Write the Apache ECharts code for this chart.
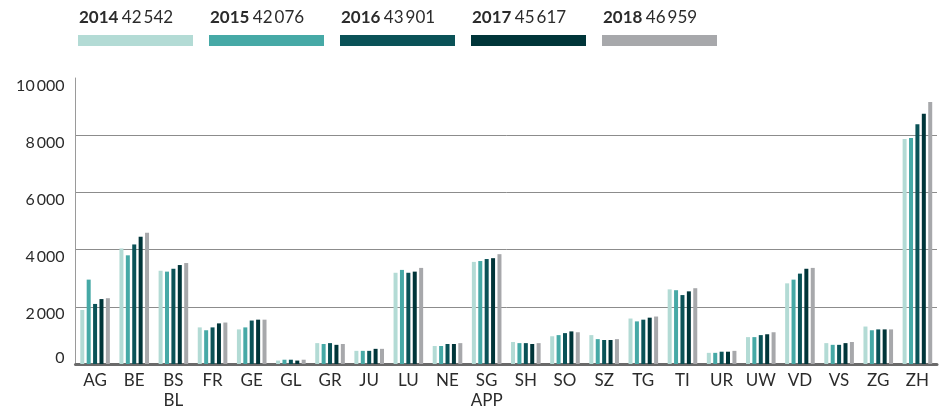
<!DOCTYPE html>
<html><head><meta charset="utf-8">
<script src="https://cdn.jsdelivr.net/npm/echarts@6/dist/echarts.min.js"></script>
<style>html,body{margin:0;padding:0;background:#fff}#c{width:942px;height:411px}</style>
</head><body><div id="c"></div>
<script>
const categories = ['AG','BE','BS\nBL','FR','GE','GL','GR','JU','LU','NE','SG\nAPP','SH','SO','SZ','TG','TI','UR','UW','VD','VS','ZG','ZH'];
const years = ['2014','2015','2016','2017','2018'];
const totals = ['42\u2009542','42\u2009076','43\u2009901','45\u2009617','46\u2009959'];
const v2014 = [1890,4040,3260,1280,1210,120,730,460,3190,630,3570,770,970,1010,1590,2610,390,940,2820,730,1310,7870];
const v2015 = [2950,3800,3230,1180,1280,150,700,460,3290,630,3600,730,1010,870,1490,2580,390,940,2950,670,1180,7900];
const v2016 = [2100,4180,3330,1280,1520,150,730,460,3190,700,3670,730,1080,840,1550,2410,430,1010,3160,670,1210,8380];
const v2017 = [2270,4450,3460,1420,1550,120,670,530,3230,700,3700,700,1140,840,1620,2540,430,1040,3330,730,1210,8750];
const v2018 = [2300,4590,3530,1450,1550,150,700,530,3360,730,3840,730,1110,870,1660,2650,460,1110,3360,770,1210,9160];
const yTicks = { min: 0, max: 10000, interval: 2000 };

const colors = ['#b3dbd5','#46a9a6','#0a5257','#003539','#a7a8ab'];
const seriesValues = [v2014, v2015, v2016, v2017, v2018];
const FONT = 'Lato';
const TXT = '#2b2b2b';

function fmt(v){ return String(v).replace(/\B(?=(\d{3})+(?!\d))/g, '\u2009'); }

const chart = echarts.init(document.getElementById('c'), null, {renderer:'canvas'});

const legendTexts = years.map((y, i) => ({
  type: 'text',
  left: 79 + i * 131,
  top: 9,
  style: {
    text: '{b|' + y + '} {r|' + totals[i] + '}',
    rich: {
      b: { fontFamily: FONT, fontWeight: 'bold', fontSize: 17, fill: TXT },
      r: { fontFamily: FONT, fontSize: 17, fill: TXT }
    }
  }
}));

chart.setOption({
  animation: false,
  backgroundColor: '#fff',
  color: colors,
  grid: { left: 75.5, right: 5, top: 78, bottom: 40.5, containLabel: false },
  legend: {
    left: 78, top: 35, padding: 0,
    itemWidth: 115, itemHeight: 11, itemGap: 16,
    icon: 'rect',
    formatter: () => '',
    textStyle: { fontSize: 1 },
    selectedMode: false,
    data: years
  },
  graphic: legendTexts,
  xAxis: {
    type: 'category',
    data: categories,
    axisLine: { lineStyle: { color: '#6a6a6a', width: 3 } },
    axisTick: { inside: true, interval: 0, length: 6, lineStyle: { color: '#6a6a6a', width: 3 } },
    axisLabel: { interval: 0, hideOverlap: false, color: TXT, fontFamily: FONT, fontSize: 17, margin: 7, lineHeight: 20 },
    splitLine: { show: false }
  },
  yAxis: {
    type: 'value',
    min: yTicks.min, max: yTicks.max, interval: yTicks.interval,
    axisLine: { show: true, lineStyle: { color: '#9a9a9a', width: 1 } },
    axisTick: { show: false },
    splitLine: { show: true, showMaxLine: false, showMinLine: false, lineStyle: { color: '#8c8c8c', width: 1 } },
    axisLabel: {
      margin: 11,
      formatter: v => v === 0 ? '{z|0}' : '{d|' + fmt(v) + '}',
      rich: {
        d: { fontFamily: FONT, fontSize: 16, color: TXT, padding: [15, 0, 0, 0] },
        z: { fontFamily: FONT, fontSize: 16, color: TXT, padding: [0, 0, 12, 0] }
      }
    }
  },
  series: years.map((y, i) => ({
    name: y,
    type: 'bar',
    data: seriesValues[i],
    barWidth: 4,
    barGap: '60%',
    itemStyle: { color: colors[i] }
  }))
});
</script>
</body></html>
